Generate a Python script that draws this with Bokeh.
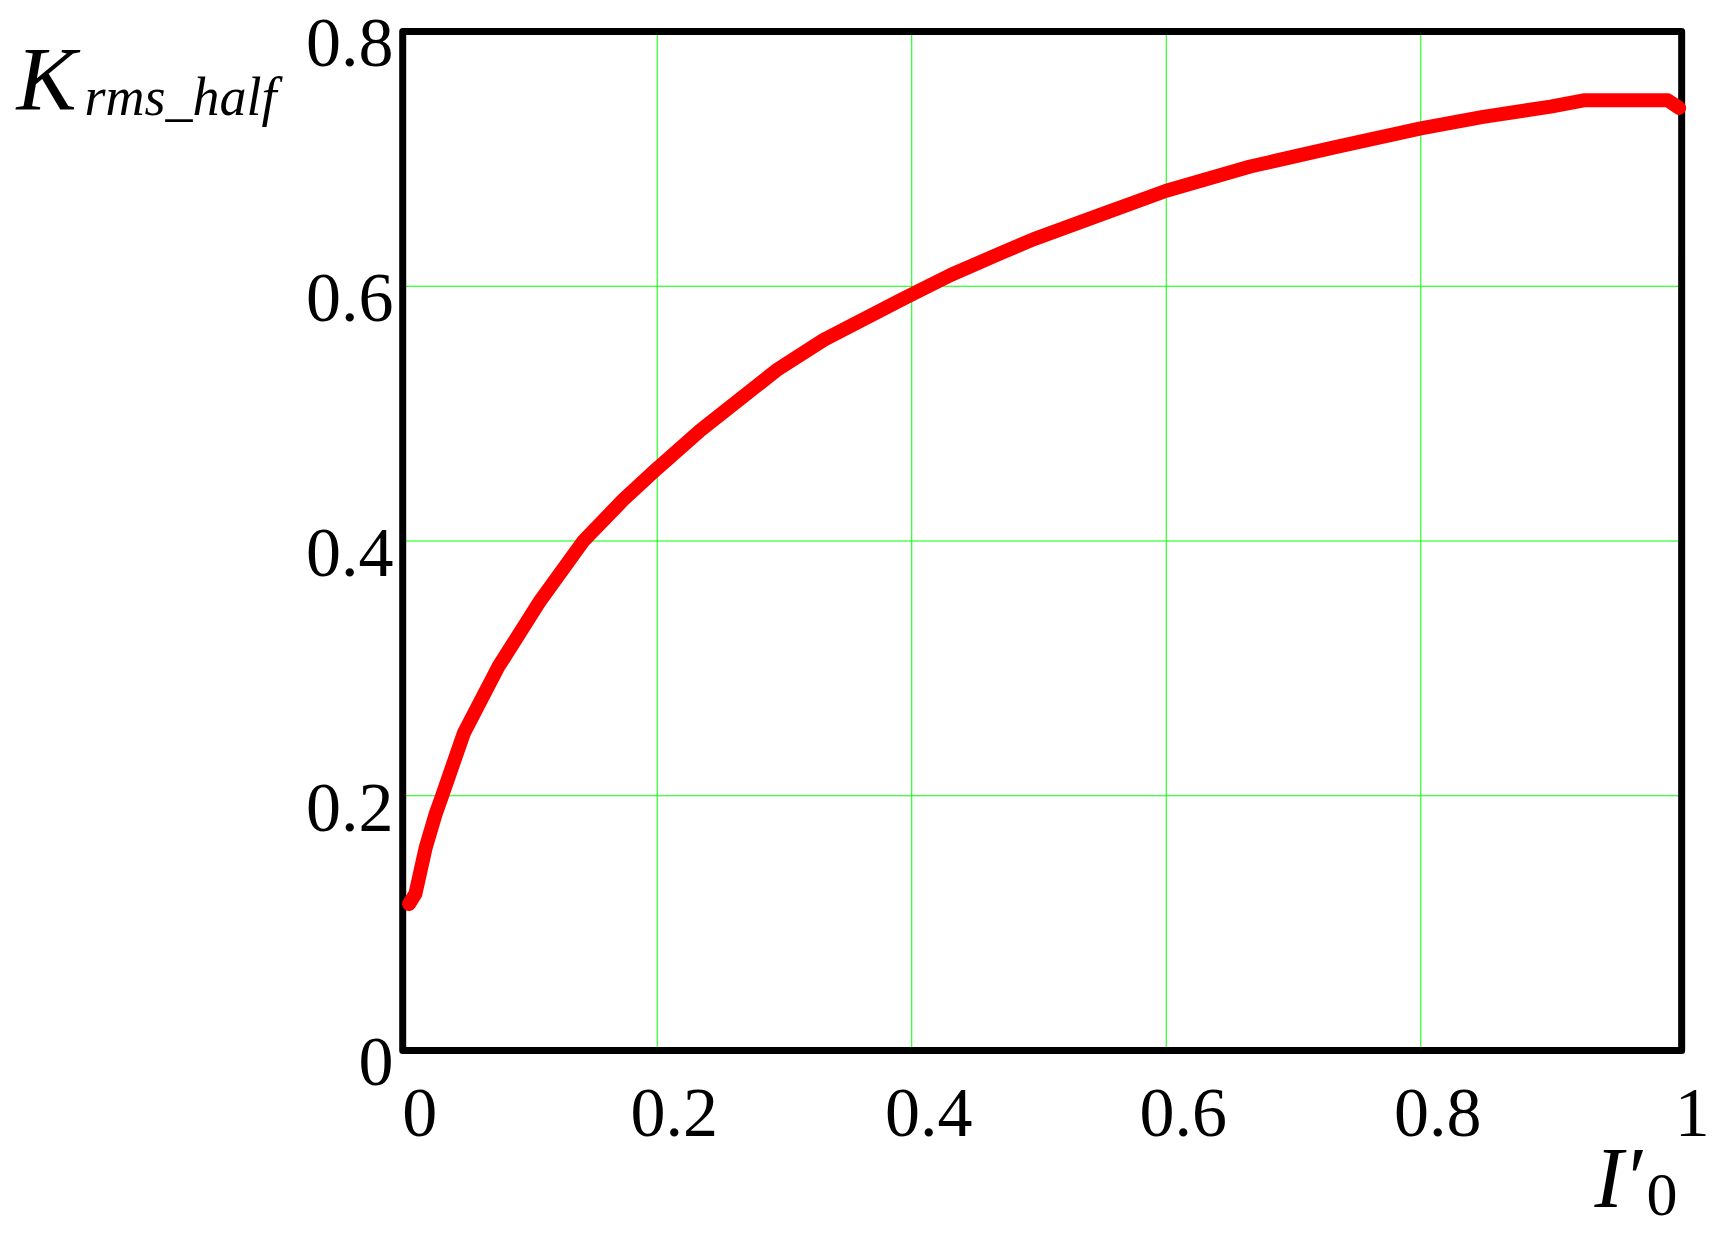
from bokeh.plotting import figure
from bokeh.models import Range1d
from bokeh.core.properties import value
from bokeh.embed import file_html
from bokeh.resources import INLINE

# ---- data ----
i0 = [0.005, 0.010, 0.018, 0.026, 0.031, 0.048, 0.075, 0.108, 0.142, 0.173,
      0.200, 0.234, 0.295, 0.331, 0.391, 0.405, 0.431, 0.470, 0.496, 0.548,
      0.600, 0.666, 0.732, 0.800, 0.849, 0.902, 0.928, 0.994, 1.003]
k_rms_half = [0.115, 0.123, 0.159, 0.186, 0.200, 0.249, 0.301, 0.353, 0.400, 0.432,
              0.457, 0.487, 0.535, 0.558, 0.589, 0.596, 0.609, 0.626, 0.637, 0.656,
              0.675, 0.694, 0.709, 0.724, 0.733, 0.741, 0.746, 0.746, 0.740]
x_ticks = [0, 0.2, 0.4, 0.6, 0.8, 1.0]
x_tick_labels = ["0", "0.2", "0.4", "0.6", "0.8", "1"]
y_ticks = [0, 0.2, 0.4, 0.6, 0.8]
y_tick_labels = ["0", "0.2", "0.4", "0.6", "0.8"]
x_title = "I\u2032"
x_title_sub = "0"
y_title = "K"
y_title_sub = "rms_half"

# axis extents
X0, X1 = 0.0, 1.005
Y0, Y1 = 0.0, 0.8

# ---- layout (pixels, canvas coordinates) ----
W, H = 1726, 1236
PX_X0, PX_PER_X = 402.2, 1272.6      # x: data 0 -> px, px per unit
PX_Y0, PX_Y1 = 1050, 31              # y: data Y0 / Y1 -> px
sy = (Y1 - Y0) / (PX_Y0 - PX_Y1)


def dx(px):
    return (px - PX_X0) / PX_PER_X


def dy(py):
    return Y0 + (PX_Y0 - py) * sy


p = figure(width=W, height=H,
           x_range=Range1d(dx(0), dx(W)), y_range=Range1d(dy(H), dy(0)),
           output_backend="svg", toolbar_location=None, min_border=0)
p.axis.visible = False
p.grid.visible = False
p.outline_line_color = None
p.background_fill_color = "white"
p.border_fill_color = "white"

GREEN = "#00ff00"
gx = x_ticks[1:-1]
gy = y_ticks[1:-1]
# grid lines (interior ticks only, as in the reference)
p.segment(x0=gx, y0=[Y0] * len(gx), x1=gx, y1=[Y1] * len(gx),
          line_color=GREEN, line_width=1)
p.segment(x0=[X0] * len(gy), y0=gy, x1=[X1] * len(gy), y1=gy,
          line_color=GREEN, line_width=1)

# plot box
p.quad(left=[X0], right=[X1], bottom=[Y0], top=[Y1], fill_color=None,
       line_color="black", line_width=7, line_join="round")

# curve
p.line(i0, k_rms_half, line_color="#ff0000", line_width=14,
       line_cap="round", line_join="round")

FONT = value("Liberation Serif")
BASE = 0.345  # baseline compensation (fraction of font size)


def base_y(py, fs):
    return dy(py - BASE * fs)


TICK_FS = 70
# x tick labels
p.text(x=x_ticks, y=[base_y(1137, TICK_FS)] * len(x_ticks), text=x_tick_labels,
       x_offset=17, text_font=FONT, text_font_size=f"{TICK_FS}px", text_align="center",
       text_baseline="alphabetic", text_color="black")
# y tick labels
p.text(x=[dx(393)] * len(y_ticks),
       y=[t - (36 - BASE * TICK_FS) * sy for t in y_ticks], text=y_tick_labels,
       text_font=FONT, text_font_size=f"{TICK_FS}px", text_align="right",
       text_baseline="alphabetic", text_color="black")

# y axis title: K_rms_half
p.text(x=[dx(16)], y=[base_y(110, 90)], text=[y_title], text_font=FONT,
       text_font_size="90px", text_font_style="italic",
       text_align="left", text_baseline="alphabetic", text_color="black")
p.text(x=[dx(84)], y=[base_y(115, 54)], text=[y_title_sub], text_font=FONT,
       text_font_size="54px", text_font_style="italic",
       text_align="left", text_baseline="alphabetic", text_color="black")

# x axis title: I'_0
p.text(x=[dx(1594)], y=[base_y(1207, 86)], text=[x_title], text_font=FONT,
       text_font_size="86px", text_font_style="italic",
       text_align="left", text_baseline="alphabetic", text_color="black")
p.text(x=[dx(1646)], y=[base_y(1216, 62)], text=[x_title_sub], text_font=FONT,
       text_font_size="62px",
       text_align="left", text_baseline="alphabetic", text_color="black")

open("out.html", "w").write(file_html(p, INLINE))
